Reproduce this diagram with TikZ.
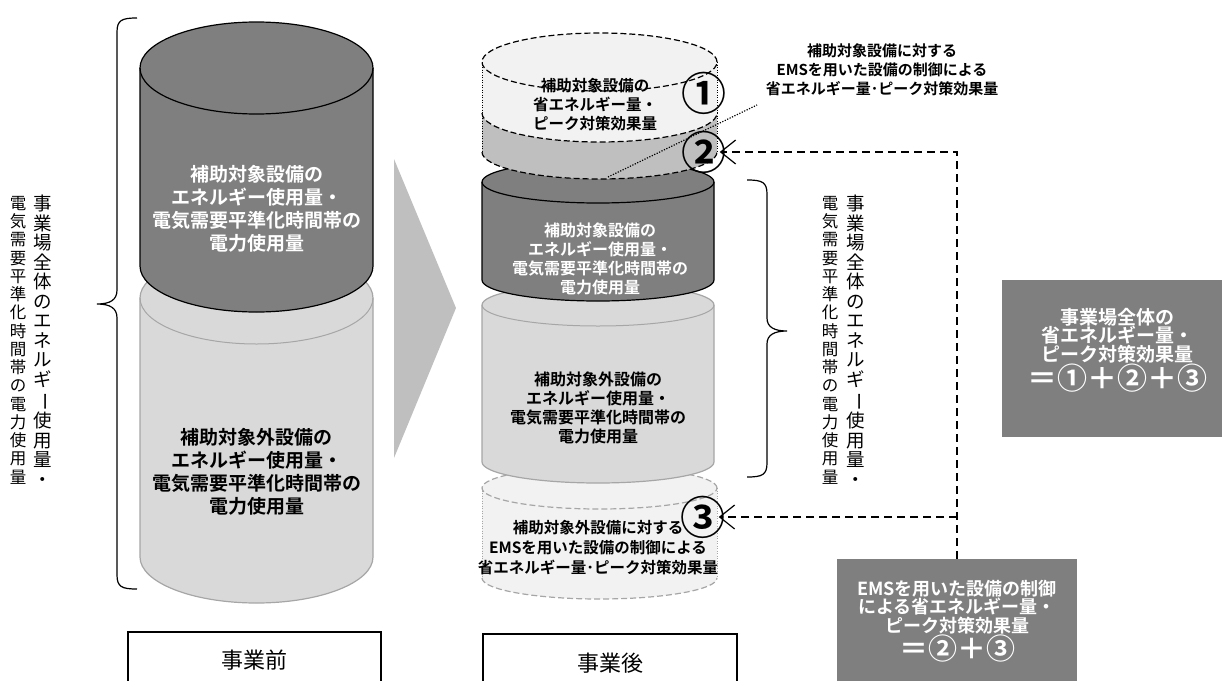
\documentclass[tikz,border=0pt]{standalone}
\usepackage{fontspec}
\setmainfont{Noto Sans CJK JP}[BoldFont={Noto Sans CJK JP Bold}]
\usetikzlibrary{arrows.meta}
\definecolor{dk}{HTML}{7F7F7F}
\definecolor{lg}{HTML}{D9D9D9}
\definecolor{lgline}{HTML}{A6A6A6}
\definecolor{chev}{HTML}{BFBFBF}
\definecolor{pale}{HTML}{F2F2F2}
\definecolor{band}{HTML}{BFBFBF}
\newcommand{\fs}[2]{\fontsize{#1pt}{#2pt}\selectfont}
\newcommand{\vbar}{\rotatebox[origin=c]{-90}{ー}}
\begin{document}
\begin{tikzpicture}[x=1pt,y=-1pt,
  cdash/.style={dash pattern=on 6pt off 3pt, line width=1.2pt},
  cdot/.style={dash pattern=on 1pt off 1.5pt, line width=1pt},
  dl/.style={dash pattern=on 8pt off 5pt, line width=1.3pt},
  tip/.style={-{Straight Barb[length=15pt,width=24pt,line width=1.2pt]}},
  txt/.style={align=center, inner sep=0pt, font=\bfseries},
  vtext/.style={align=center, inner sep=0pt, anchor=north},
  circ/.style={inner sep=0pt, font=\bfseries\fs{45}{45}},
  greybox/.style={fill=dk, inner sep=0pt},
  labbox/.style={draw=black, line width=1.2pt, fill=white, inner sep=0pt, font=\fs{22}{22}}
]
\useasboundingbox (0,0) rectangle (1223,680);
\clip (0,0) rectangle (1223,680);

% ---------- left: before ----------
\filldraw[fill=lg, draw=lgline, line width=1.2pt] (140,298) -- (140,557)
  arc[start angle=180,end angle=360,x radius=116.5pt,y radius=46pt] -- (373,298)
  arc[start angle=0,end angle=180,x radius=116.5pt,y radius=46pt] -- cycle;
\draw[lgline, line width=1pt] (140,298) arc[start angle=180,end angle=360,x radius=116.5pt,y radius=46pt];

\filldraw[fill=dk, draw=black, line width=1.2pt] (140,68) -- (140,266)
  arc[start angle=180,end angle=360,x radius=116.5pt,y radius=46pt] -- (373,68)
  arc[start angle=0,end angle=180,x radius=116.5pt,y radius=46pt] -- cycle;
\draw[line width=1.2pt] (140,68) arc[start angle=180,end angle=360,x radius=116.5pt,y radius=46pt];

\node[txt, text=white, font=\bfseries\fs{19}{23}] (t1) at (256.5,209)
  {補助対象設備の\\エネルギー使用量・\\電気需要平準化時間帯の\\電力使用量};
\node[txt, font=\bfseries\fs{19}{23}] (t2) at (256.5,472)
  {補助対象外設備の\\エネルギー使用量・\\電気需要平準化時間帯の\\電力使用量};

% left brace
\draw[line width=1.2pt] (137,18) .. controls (122,18) and (117,20) .. (117,32) -- (117,290)
  .. controls (117,300) and (110,304) .. (97,304)
  .. controls (110,304) and (117,308) .. (117,318) -- (117,575)
  .. controls (117,587) and (122,589) .. (137,589);

\node[vtext, font=\fs{18.5}{19.5}] (lv1) at (43,195)
  {事\\業\\場\\全\\体\\の\\エ\\ネ\\ル\\ギ\\\vbar\\使\\用\\量\\・};
\node[vtext, font=\fs{16.5}{18.25}] (lv2) at (18,196)
  {電\\気\\需\\要\\平\\準\\化\\時\\間\\帯\\の\\電\\力\\使\\用\\量};

% chevron
\fill[chev] (394,159) -- (456,308) -- (394,458) -- cycle;

% ---------- middle: after ----------
% (3)
\fill[pale] (482,488) -- (482,578)
  arc[start angle=180,end angle=360,x radius=117.5pt,y radius=21pt] -- (717,488)
  arc[start angle=0,end angle=180,x radius=117.5pt,y radius=21pt] -- cycle;
\draw[lgline, cdash] (599.5,488) ellipse[x radius=117.5pt, y radius=21pt];
\draw[lgline, cdot] (482,488) -- (482,578) (717,488) -- (717,578);
\draw[lgline, cdash] (482,578) arc[start angle=180,end angle=360,x radius=117.5pt,y radius=21pt];

% light can
\filldraw[fill=lg, draw=lgline, line width=1.2pt] (482,305) -- (482,462)
  arc[start angle=180,end angle=360,x radius=116pt,y radius=21pt] -- (714,305)
  arc[start angle=0,end angle=180,x radius=116pt,y radius=21pt] -- cycle;
\draw[lgline, line width=1pt] (482,305) arc[start angle=180,end angle=360,x radius=116pt,y radius=21pt];

% dark can
\filldraw[fill=dk, draw=black, line width=1.2pt] (482,182) -- (482,280)
  arc[start angle=180,end angle=360,x radius=116pt,y radius=21pt] -- (714,182)
  arc[start angle=0,end angle=180,x radius=116pt,y radius=21pt] -- cycle;
\draw[line width=1.2pt] (482,182) arc[start angle=180,end angle=360,x radius=116pt,y radius=21pt];

% (2) band
\fill[band] (482,113) -- (482,152)
  arc[start angle=180,end angle=360,x radius=117.5pt,y radius=27pt] -- (717,113)
  arc[start angle=0,end angle=180,x radius=117.5pt,y radius=27pt] -- cycle;
\draw[cdot] (482,113) -- (482,152) (717,113) -- (717,152);
\draw[cdash] (482,152) arc[start angle=180,end angle=360,x radius=117.5pt,y radius=27pt];

% (1) top
\fill[pale] (482,62) -- (482,113)
  arc[start angle=180,end angle=360,x radius=117.5pt,y radius=29pt] -- (717,113)
  -- (717,62) arc[start angle=0,end angle=180,x radius=117.5pt,y radius=29pt] -- cycle;
\draw[cdash] (599.5,62) ellipse[x radius=117.5pt, y radius=29pt];
\draw[cdot] (482,62) -- (482,113) (717,62) -- (717,113);
\draw[cdash] (482,113) arc[start angle=180,end angle=360,x radius=117.5pt,y radius=29pt];

% texts middle
\node[txt, font=\bfseries\fs{15.5}{19}] (m1) at (595,105)
  {補助対象設備の\\省エネルギー量・\\ピーク対策効果量};
\node[txt, text=white, font=\bfseries\fs{16}{19}] (m2) at (600,259)
  {補助対象設備の\\エネルギー使用量・\\電気需要平準化時間帯の\\電力使用量};
\node[txt, font=\bfseries\fs{16}{19}] (m3) at (598,408)
  {補助対象外設備の\\エネルギー使用量・\\電気需要平準化時間帯の\\電力使用量};
\node[txt, font=\bfseries\fs{15.5}{20}] (m4) at (598,548)
  {補助対象外設備に対する\\EMSを用いた設備の制御による\\省エネルギー量･ピーク対策効果量};

\node[circ] (c1) at (704,93) {①};
\node[circ] (c2) at (704,152) {②};
\node[circ] (c3) at (703,517) {③};

% annotation
\node[txt, font=\bfseries\fs{15}{19}] (ann) at (882,70)
  {補助対象設備に対する\\EMSを用いた設備の制御による\\省エネルギー量･ピーク対策効果量};
\coordinate (dotA) at (608,177);
\coordinate (dotB) at (757,105);
\draw[dash pattern=on 1.2pt off 1.5pt, line width=1.2pt] (dotA) -- (dotB);

% right brace
\draw[line width=1.2pt] (747,180) .. controls (762,180) and (767,182) .. (767,194) -- (767,318)
  .. controls (767,327) and (774,331) .. (787,331)
  .. controls (774,331) and (767,335) .. (767,344) -- (767,463)
  .. controls (767,475) and (762,477) .. (747,477);

\node[vtext, font=\fs{18.5}{19.5}] (rv1) at (856,195)
  {事\\業\\場\\全\\体\\の\\エ\\ネ\\ル\\ギ\\\vbar\\使\\用\\量\\・};
\node[vtext, font=\fs{16.5}{18.25}] (rv2) at (830,196)
  {電\\気\\需\\要\\平\\準\\化\\時\\間\\帯\\の\\電\\力\\使\\用\\量};

% grey boxes
\node[greybox, minimum width=220pt, minimum height=157pt] (box1) at (1112,358.5) {};
\node[txt, text=white, font=\bfseries\fs{19}{18.5}] (box1t) at (1117,350)
  {事業場全体の\\省エネルギー量・\\ピーク対策効果量\\{\fs{30}{26}＝①＋②＋③}};
\node[greybox, minimum width=240pt, minimum height=130pt] (box2) at (957,624) {};
\node[txt, text=white, font=\bfseries\fs{18}{18.5}] (box2t) at (957,621)
  {EMSを用いた設備の制御\\による省エネルギー量・\\ピーク対策効果量\\{\fs{29}{25}＝②＋③}};

% dashed connectors
\coordinate (turn2) at (957,152);
\coordinate (join3) at (957,517);
\draw[dl, tip] (box2.north -| turn2) -- (turn2) -- ([xshift=-7pt]c2.east |- turn2);
\draw[dl, tip] (join3) -- ([xshift=-7pt]c3.east |- join3);

% bottom labels
\node[labbox, minimum width=253pt, minimum height=56pt] (before) at (254.5,660) {事業前};
\node[labbox, minimum width=254pt, minimum height=58pt] (after) at (610,663) {事業後};
\end{tikzpicture}
\end{document}
